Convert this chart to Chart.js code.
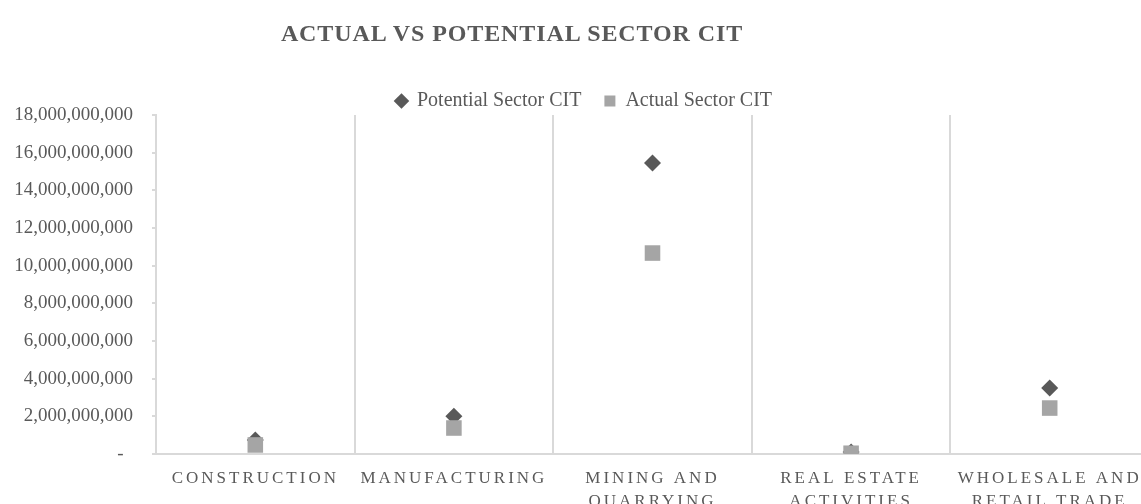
<!DOCTYPE html>
<html>
<head>
<meta charset="utf-8">
<title>Actual vs Potential Sector CIT</title>
<script src="https://cdn.jsdelivr.net/npm/chart.js@4/dist/chart.umd.min.js"></script>
<style>
  html, body { margin: 0; padding: 0; background: #fff; overflow: hidden; }
  .chart-wrap { position: relative; width: 1141px; height: 504px; overflow: hidden; }
  #grafico { position: absolute; left: 0; top: 0; }
  .chart-title {
    position: absolute; left: 0; top: 21px; width: 1024px; margin: 0;
    text-align: center; color: #595959;
    font: bold 24px "Liberation Serif", serif; line-height: 24px; letter-spacing: 0.9px;
  }
</style>
</head>
<body>
<div class="chart-wrap">
  <canvas id="grafico" width="1160" height="526"></canvas>
  <h1 class="chart-title">ACTUAL VS POTENTIAL SECTOR CIT</h1>
</div>
<script>
const categories = [
  ['CONSTRUCTION'],
  ['MANUFACTURING'],
  ['MINING AND', 'QUARRYING'],
  ['REAL ESTATE', 'ACTIVITIES'],
  ['WHOLESALE AND', 'RETAIL TRADE']
];
const potentialCit = [750000000, 2000000000, 15450000000, 100000000, 3500000000];
const actualCit = [480000000, 1380000000, 10670000000, 40000000, 2440000000];
const yMin = 0;
const yMax = 18000000000;
const yStep = 2000000000;

const FONT = '"Liberation Serif", serif';
const TEXT = '#595959';
const GRID = '#d9d9d9';

// the x labels are spaced out in the original; Chart.js has no option for it
const xLabelSpacing = {
  id: 'xLabelSpacing',
  beforeDraw(chart) {
    const scale = chart.scales.x;
    if (scale._spaced) return;
    const original = scale.drawLabels;
    scale.drawLabels = function (area) {
      this.ctx.save();
      this.ctx.letterSpacing = '3px';
      original.call(this, area);
      this.ctx.restore();
    };
    scale._spaced = true;
  }
};

// legend overlaps the top of the plot a bit, so cut its box height after fit()
const legendHeight = {
  id: 'legendHeight',
  beforeLayout(chart) {
    const legend = chart.legend;
    if (!legend || legend._cut) return;
    const fit = legend.fit;
    legend.fit = function () {
      fit.call(this);
      this.height = 47;
    };
    legend._cut = true;
  }
};

new Chart(document.getElementById('grafico'), {
  type: 'line',
  data: {
    labels: categories,
    datasets: [
      {
        label: 'Potential Sector CIT',
        data: potentialCit,
        order: 1,
        showLine: false,
        pointStyle: 'rectRot',
        pointRadius: 8.5,
        pointBorderWidth: 0,
        pointBackgroundColor: '#595959',
        backgroundColor: '#595959',
        borderColor: '#595959'
      },
      {
        label: 'Actual Sector CIT',
        data: actualCit,
        order: 0,
        showLine: false,
        pointStyle: 'rect',
        pointRadius: 11,
        pointBorderWidth: 0,
        pointBackgroundColor: '#a5a5a5',
        backgroundColor: '#a5a5a5',
        borderColor: '#a5a5a5'
      }
    ]
  },
  options: {
    responsive: false,
    animation: false,
    events: [],
    layout: { padding: { top: 68, left: 14, right: 6, bottom: 0 } },
    plugins: {
      tooltip: { enabled: false },
      legend: {
        position: 'top',
        labels: {
          usePointStyle: true,
          boxWidth: 11,
          boxHeight: 11,
          padding: 23,
          color: TEXT,
          font: { family: FONT, size: 20 },
          sort: (a, b) => a.datasetIndex - b.datasetIndex
        }
      }
    },
    scales: {
      x: {
        offset: true,
        grid: { offset: true, drawTicks: false, color: GRID, lineWidth: 2 },
        border: { color: GRID, width: 2 },
        ticks: {
          maxRotation: 0,
          autoSkip: false,
          padding: 13.5,
          color: TEXT,
          font: { family: FONT, size: 17, lineHeight: '22.5px' }
        }
      },
      y: {
        min: yMin,
        max: yMax,
        ticks: {
          stepSize: yStep,
          padding: 19,
          color: TEXT,
          font: { family: FONT, size: 19 },
          callback: v => v === 0 ? '-  ' : v.toLocaleString('en-US')
        },
        grid: { drawOnChartArea: false, drawTicks: true, tickLength: 4, color: GRID, lineWidth: 2 },
        border: { display: true, color: GRID, width: 2 },
        afterFit(scale) { scale.width = 142; }
      }
    }
  },
  plugins: [xLabelSpacing, legendHeight]
});
</script>
</body>
</html>
